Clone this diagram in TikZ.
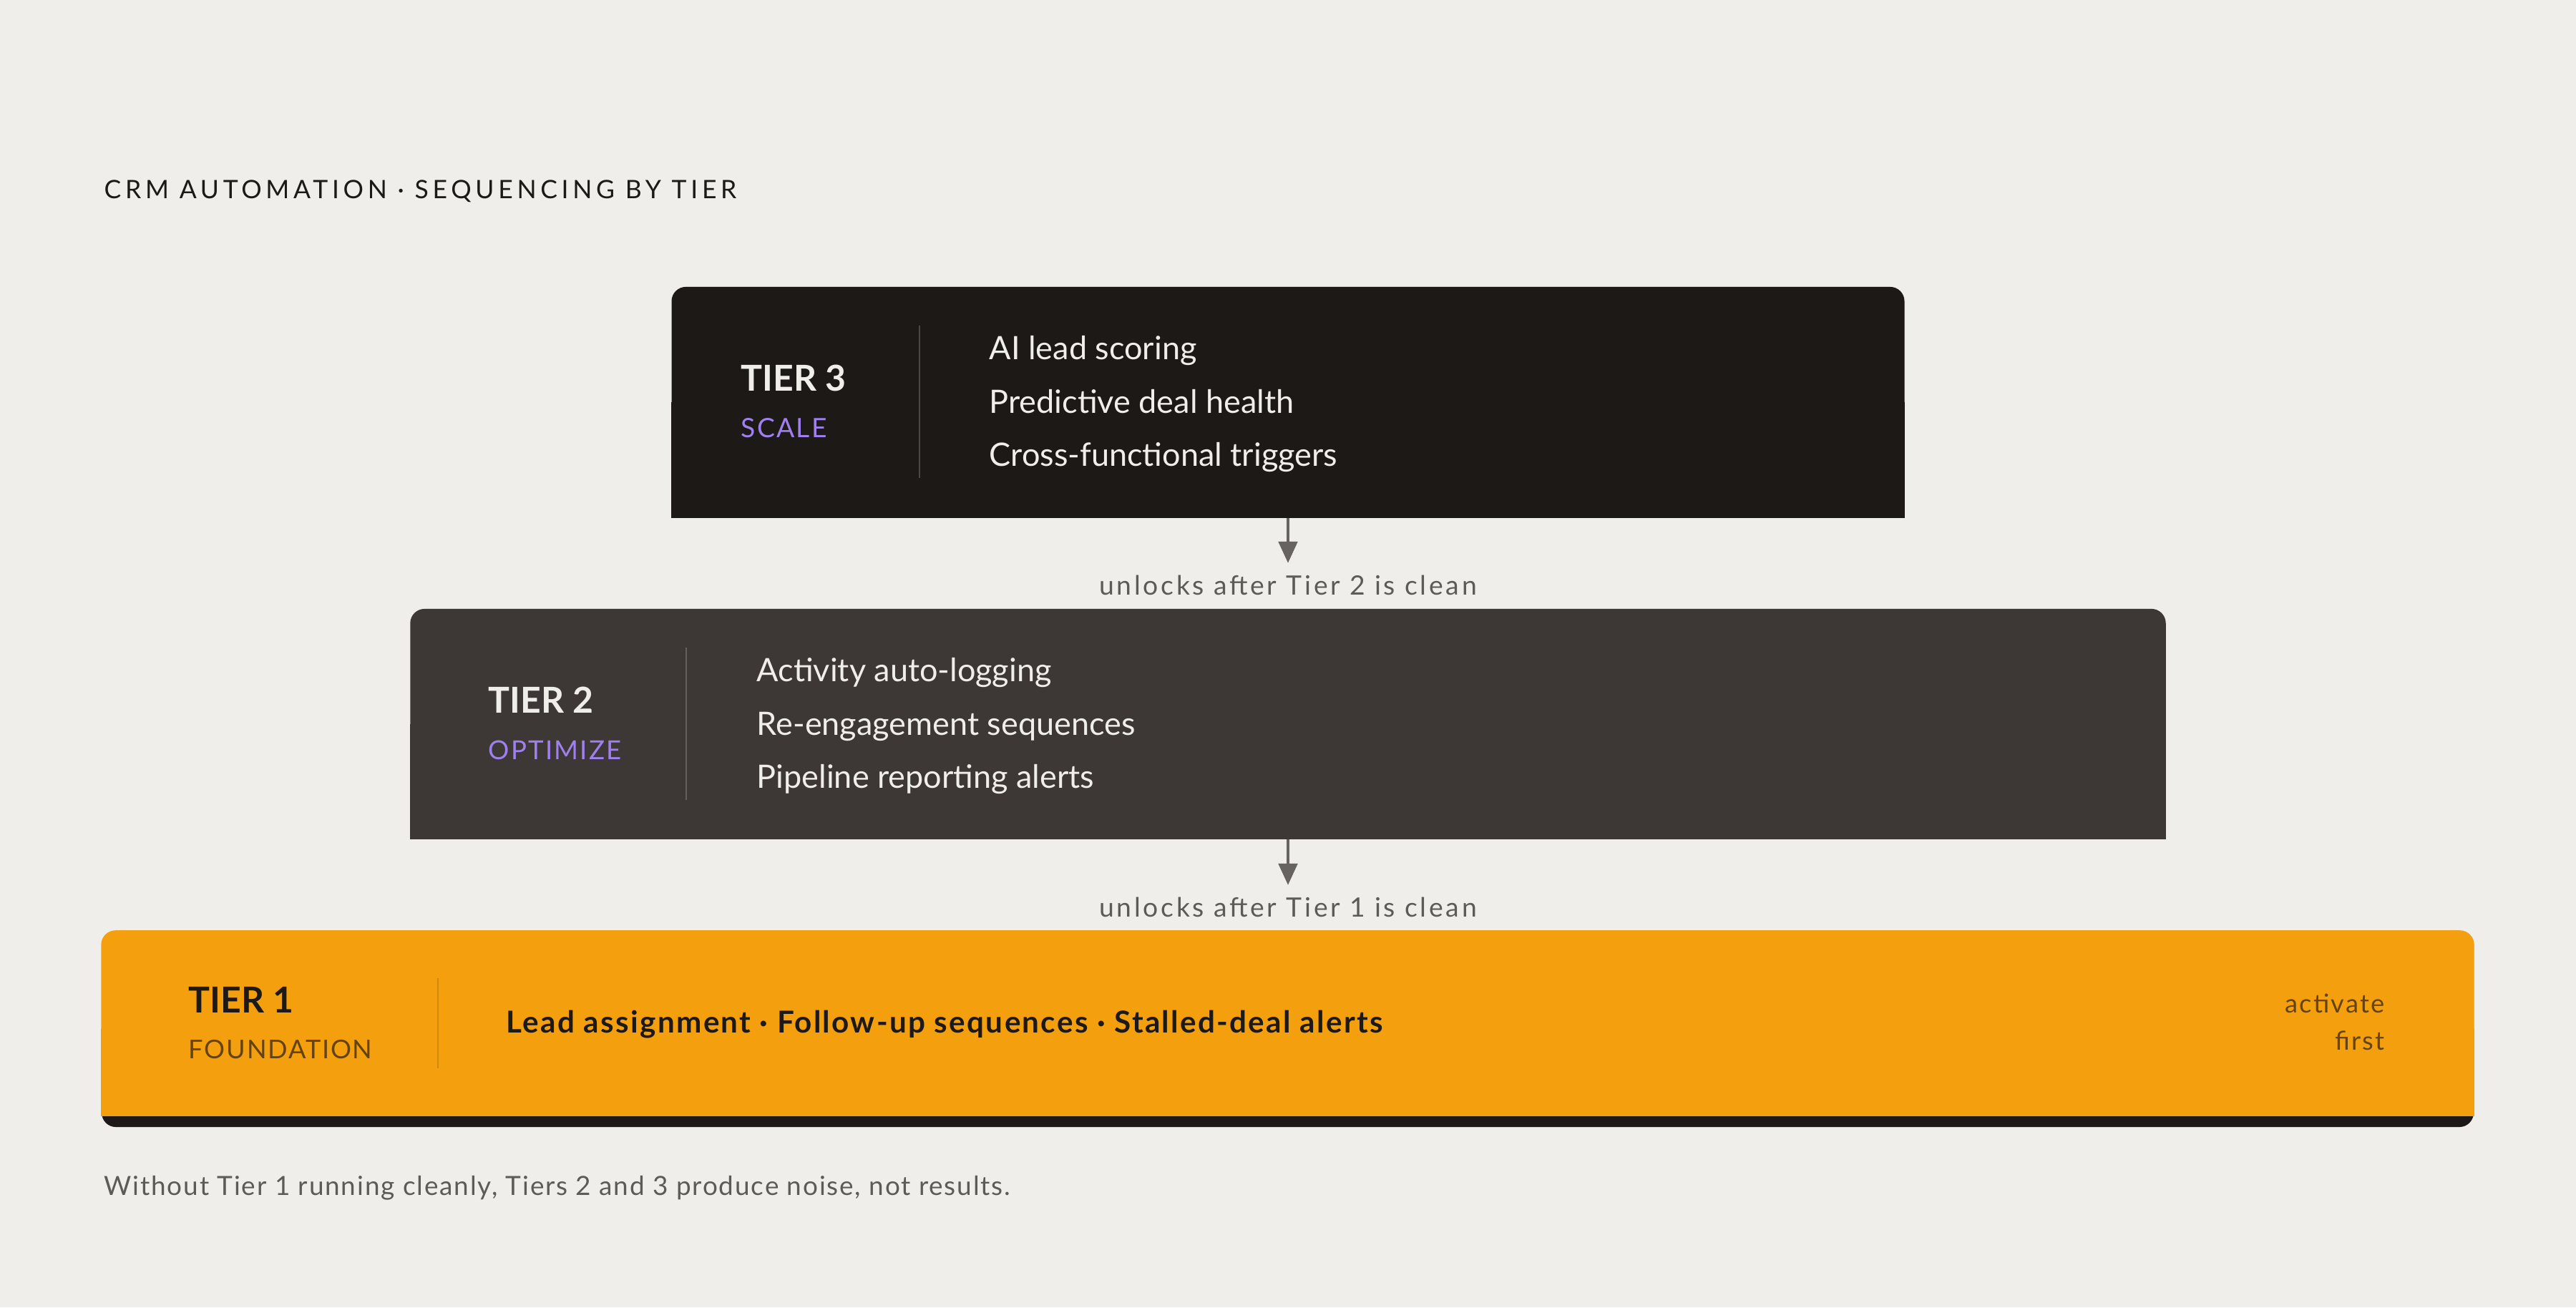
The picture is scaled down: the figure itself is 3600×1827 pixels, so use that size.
\documentclass[tikz,border=0pt]{standalone}
\usepackage{xcolor}
\usepackage{fontspec}
\setmainfont{Lato}
\newfontfamily\widefont[LetterSpace=16]{Lato}
\newfontfamily\tagfont[LetterSpace=6]{Lato}
\newfontfamily\unlockfont[LetterSpace=10]{Lato}
\newfontfamily\notefont[LetterSpace=5]{Lato}
\newfontfamily\leadfont[LetterSpace=5.5]{Lato}
\usepackage{tikz}
\usetikzlibrary{arrows.meta, positioning}

\definecolor{paper}{HTML}{EFEEEA}
\definecolor{ink}{HTML}{1D1917}
\definecolor{tiertwo}{HTML}{3D3835}
\definecolor{amber}{HTML}{F4A00E}
\definecolor{lilac}{HTML}{9F80EE}
\definecolor{chalk}{HTML}{F0EEE9}
\definecolor{arrowgray}{HTML}{67635F}
\definecolor{notegray}{HTML}{5E5A56}
\definecolor{umber}{HTML}{654310}

\begin{document}
\begin{tikzpicture}[x=0.01cm, y=-0.01cm,
    txt/.style={inner sep=0pt, anchor=base west},
    tierbox/.style={inner sep=0pt, rounded corners=0.2cm},
    item/.style={txt, text=chalk, font=\fontsize{12.8}{15}\selectfont},
    tiername/.style={txt, font=\bfseries\fontsize{14.2}{16}\selectfont},
    tiertag/.style={txt, font=\tagfont\fontsize{10.6}{12}\selectfont},
    unlock/.style={inner sep=0pt, anchor=base, text=notegray, font=\unlockfont\fontsize{10.6}{12}\selectfont},
    conn/.style={-{Triangle[width=7.5pt,length=8.5pt]}, arrowgray, line width=1.1pt, shorten >=0.16cm}]
                % 背景
                \fill[paper] (0,0) rectangle (3600,1827);
                \useasboundingbox (0,0) rectangle (3600,1827);

                % 标题
                \node[txt, text=ink, font=\widefont\fontsize{10.1}{12}\selectfont] (title) at (145,277) {CRM AUTOMATION · SEQUENCING BY TIER};

                % Tier 3
                \node[tierbox, fill=ink, minimum width=17.22cm, minimum height=3.22cm] (t3) at (1800,562) {};
                \fill[ink] (t3.west) rectangle (t3.south east);
                \draw[color=ink!80!white, line width=0.7pt] (1285,455) -- (1285,668);
                \node[tiername, text=chalk] (t3name) at (1035,546) {TIER 3};
                \node[tiertag, text=lilac] (t3tag) at (1035,611) {SCALE};
                \node[item] (t3a) at (1382,502) {AI lead scoring};
                \node[item] (t3b) at (1382,577) {Predictive deal health};
                \node[item] (t3c) at (1382,651) {Cross-functional triggers};

                % 箭头 3 -> 2
                \node[unlock] (lock2) at (1800,831) {unlocks after Tier 2 is clean};
                \draw[conn] (t3.south) -- (lock2.north);

                % Tier 2
                \node[tierbox, fill=tiertwo, minimum width=24.52cm, minimum height=3.21cm] (t2) at (1800,1011.5) {};
                \fill[tiertwo] (t2.west) rectangle (t2.south east);
                \draw[color=tiertwo!80!white, line width=0.7pt] (959,905) -- (959,1118);
                \node[tiername, text=chalk] (t2name) at (682,996) {TIER 2};
                \node[tiertag, text=lilac, font=\tagfont\fontsize{10.4}{12}\selectfont] (t2tag) at (682,1061) {OPTIMIZE};
                \node[item] (t2a) at (1057,952) {Activity auto-logging};
                \node[item] (t2b) at (1057,1027) {Re-engagement sequences};
                \node[item] (t2c) at (1057,1101) {Pipeline reporting alerts};

                % 箭头 2 -> 1
                \node[unlock] (lock1) at (1800,1281) {unlocks after Tier 1 is clean};
                \draw[conn] (t2.south) -- (lock1.north);

                % Tier 1
                \node[tierbox, fill=ink, minimum width=33.13cm, minimum height=2.74cm] (t1) at (1799.5,1438) {};
                \fill[amber, rounded corners=0.2cm] (t1.north west) rectangle ([yshift=0.16cm]t1.south east);
                \fill[amber] (t1.west) rectangle ([yshift=0.16cm]t1.south east);
                \draw[color=amber!85!black, line width=0.7pt] (612,1367) -- (612,1493);
                \node[tiername, text=ink] (t1name) at (263,1415) {TIER 1};
                \node[tiertag, text=umber, font=\notefont\fontsize{10.3}{12}\selectfont] (t1tag) at (263,1479) {FOUNDATION};
                \node[txt, text=ink, font=\leadfont\bfseries\fontsize{12}{14}\selectfont] (t1main) at (707,1443) {Lead assignment · Follow-up sequences · Stalled-deal alerts};
                \node[inner sep=0pt, anchor=base east, text=umber, font=\tagfont\fontsize{10.3}{12}\selectfont] (t1act) at (3333,1415) {activate};
                \node[inner sep=0pt, anchor=base east, text=umber, font=\tagfont\fontsize{10.3}{12}\selectfont] (t1first) at (3333,1467) {first};

                % 脚注
                \node[txt, text=notegray, font=\notefont\fontsize{10.5}{12}\selectfont] (foot) at (145,1670) {Without Tier 1 running cleanly, Tiers 2 and 3 produce noise, not results.};
\end{tikzpicture}
\end{document}
